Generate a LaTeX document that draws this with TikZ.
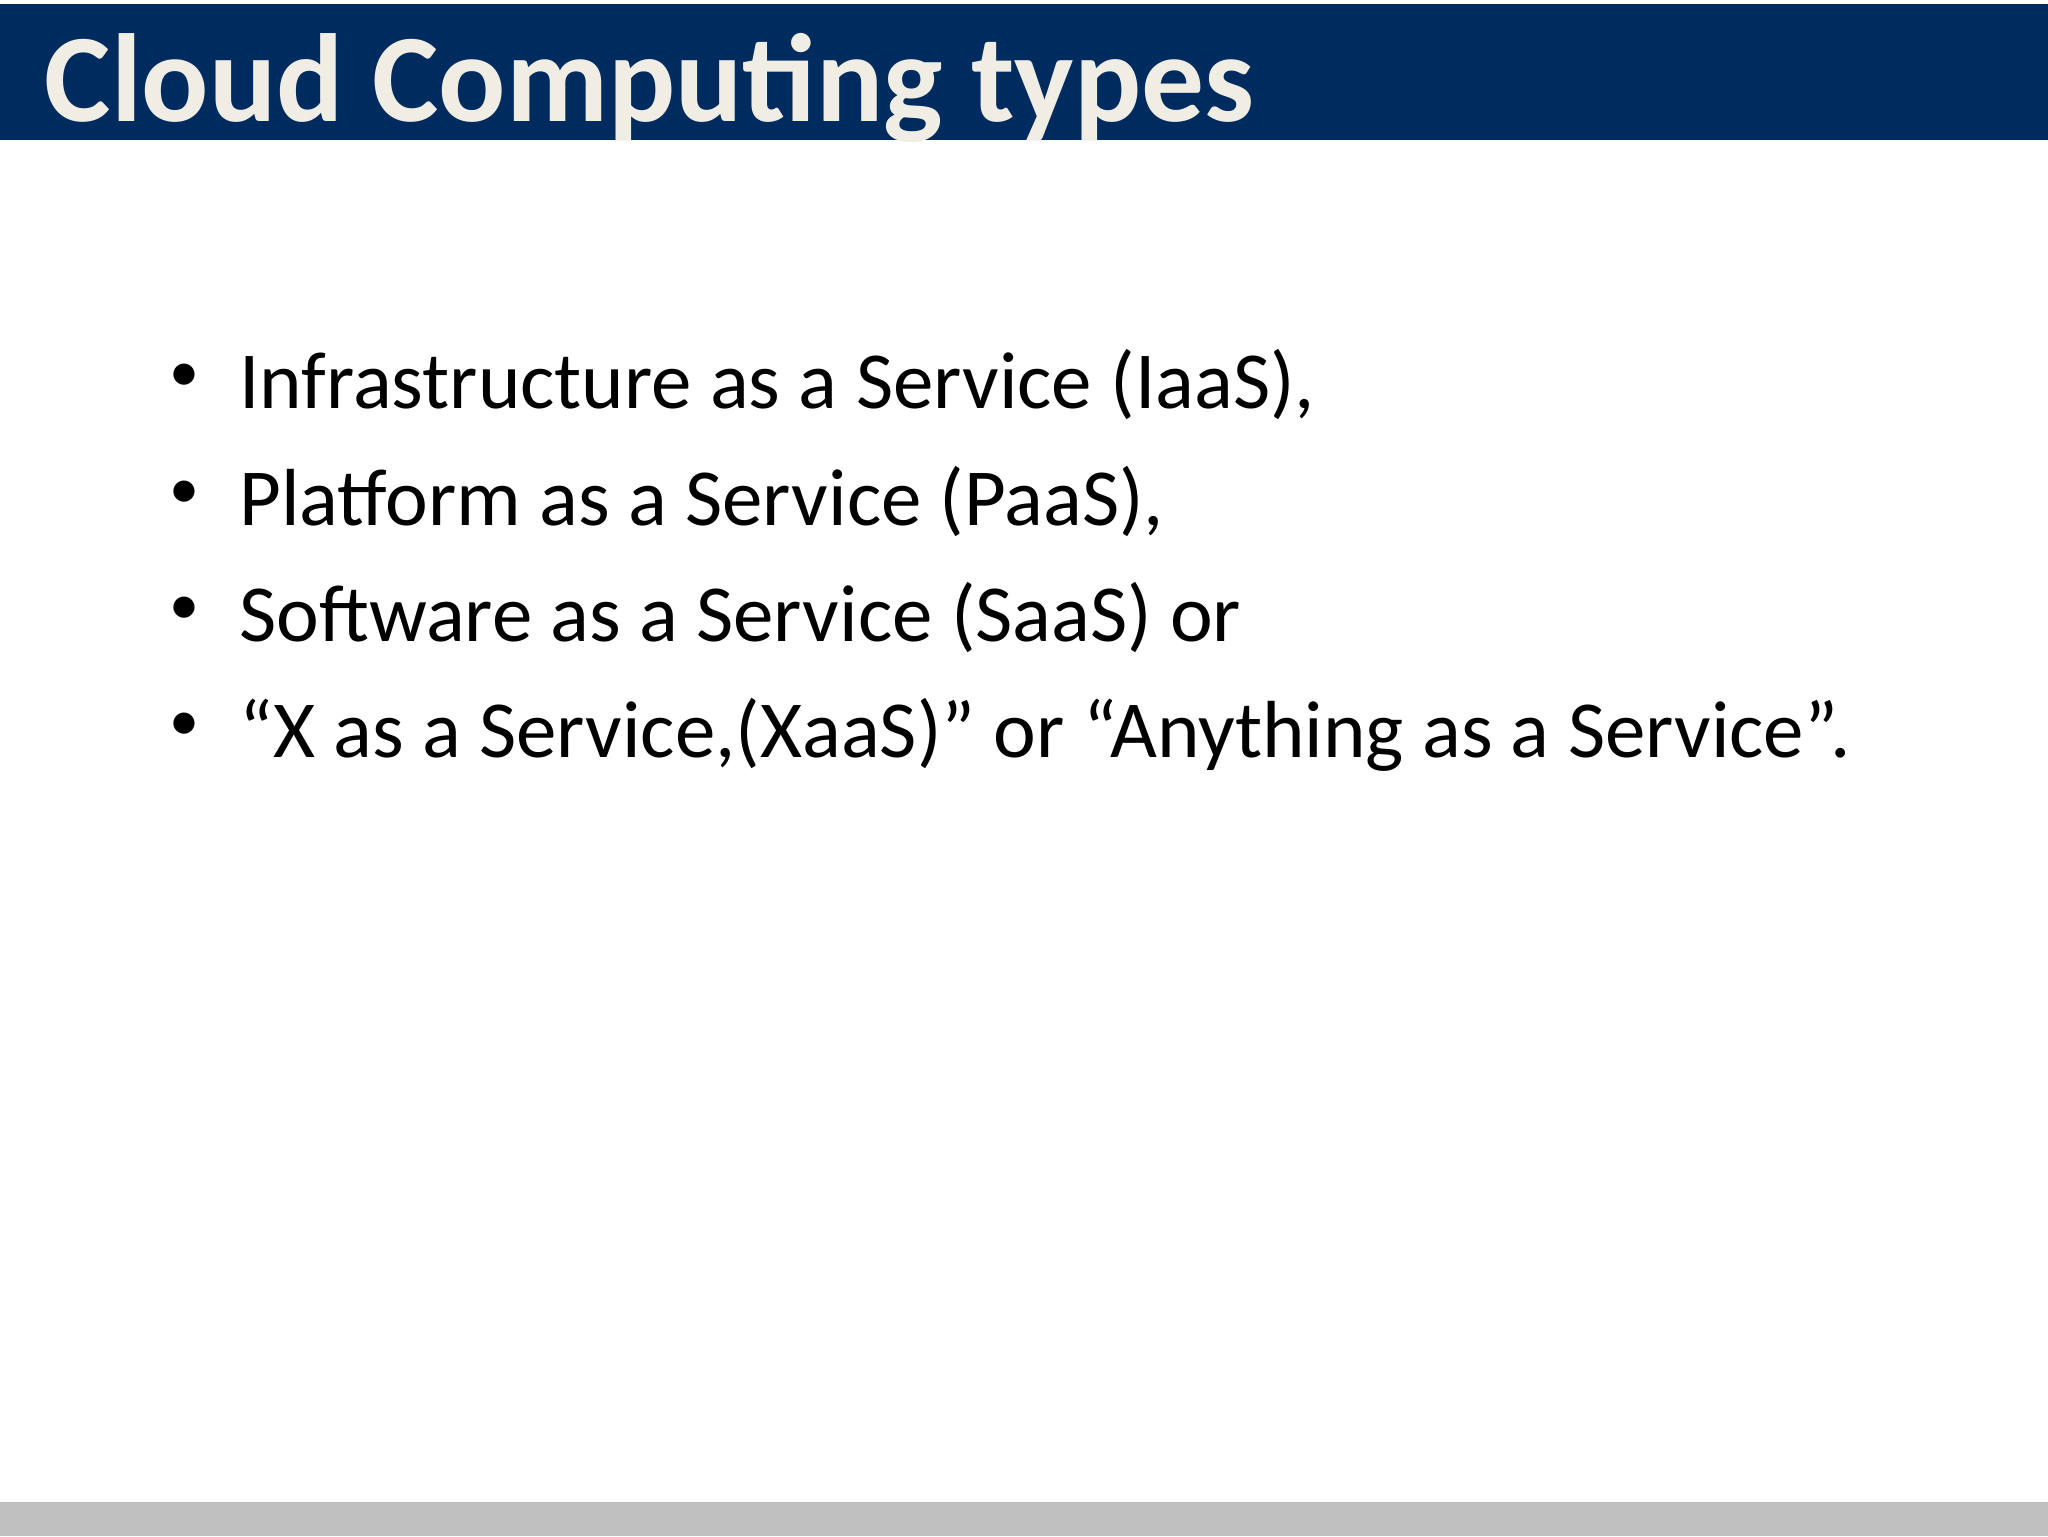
\documentclass[tikz,border=0pt]{standalone}
\usepackage{fontspec}
\setmainfont{Carlito}
\definecolor{navy}{HTML}{002B5F}
\definecolor{titletext}{HTML}{F0EEE4}
\definecolor{footgray}{HTML}{C0C0C0}
\begin{document}
\begin{tikzpicture}[x=1pt,y=-1pt,
  bul/.style={anchor=base west,inner sep=0pt,font=\fontsize{62}{64}\selectfont},
  dot/.style={anchor=base,inner sep=0pt,font=\fontsize{46}{48}\selectfont}]
\useasboundingbox (0,0) rectangle (1568,1176);
\fill[white] (0,0) rectangle (1568,1176);
\fill[navy] (0,3) rectangle (1568,107);
\fill[footgray] (0,1150) rectangle (1568,1176);
\node[anchor=base west,inner sep=0pt,text=titletext,font=\fontsize{96}{100}\bfseries\selectfont] (title) at (34,93) {Cloud Computing types};
\node[bul] (b1) at (183,313) {Infrastructure as a Service (IaaS),};
\node[bul] (b2) at (183,402) {Platform as a Service (PaaS),};
\node[bul] (b3) at (183,491) {Software as a Service (SaaS) or};
\node[bul] (b4) at (183,580) {“X as a Service,(XaaS)” or “Anything as a Service”.};
\foreach \y/\n in {300/d1,389/d2,478/d3,567/d4}
  \node[dot] (\n) at (141,\y) {•};
\end{tikzpicture}
\end{document}
